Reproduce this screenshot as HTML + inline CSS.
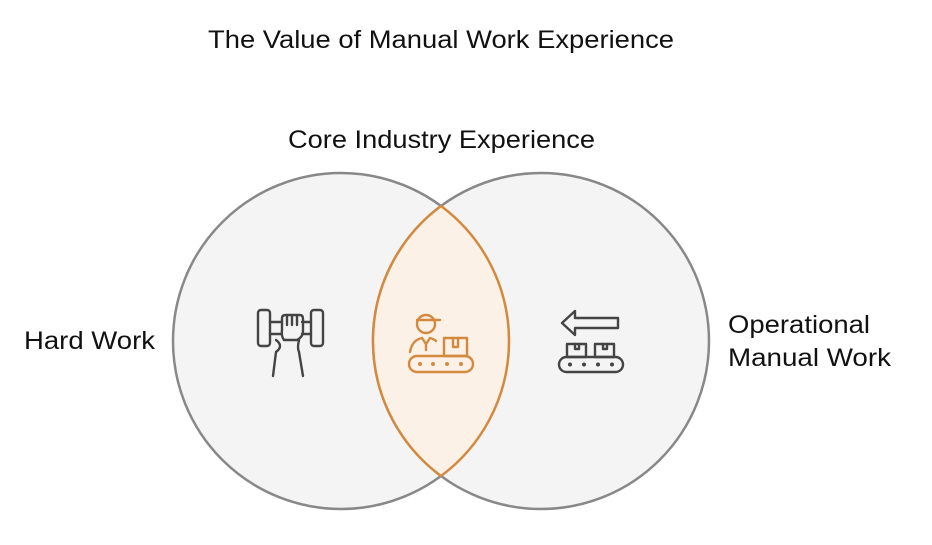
<!DOCTYPE html>
<html><head><style>
body{margin:0;width:932px;height:540px;background:#fff;overflow:hidden}
text{font-family:"Liberation Sans",sans-serif;fill:#111}
</style></head><body>
<svg width="932" height="540" viewBox="0 0 932 540">
<text x="208" y="48" font-size="25" textLength="466" lengthAdjust="spacingAndGlyphs">The Value of Manual Work Experience</text>
<text x="288" y="148" font-size="25" textLength="307" lengthAdjust="spacingAndGlyphs">Core Industry Experience</text>
<text x="24" y="349" font-size="25" textLength="131" lengthAdjust="spacingAndGlyphs">Hard Work</text>
<text x="728" y="333" font-size="25" textLength="142" lengthAdjust="spacingAndGlyphs">Operational</text>
<text x="728" y="366" font-size="25" textLength="163" lengthAdjust="spacingAndGlyphs">Manual Work</text>
<circle cx="341" cy="341" r="168" fill="#f4f4f4" stroke="#888" stroke-width="2.5"/>
<circle cx="541" cy="341" r="168" fill="#f4f4f4" stroke="#888" stroke-width="2.5"/>
<path d="M441 206 A168 168 0 0 1 441 476 A168 168 0 0 1 441 206Z" fill="#fbf1e6" stroke="#d38a3e" stroke-width="2.5"/>
<g fill="none" stroke="#444" stroke-width="2.4" stroke-linecap="round" stroke-linejoin="round">
<rect x="258" y="310" width="12" height="36" rx="3"/>
<rect x="311" y="310" width="12" height="36" rx="3"/>
<path d="M270 322h12M270 334h12M302 322h9M302 334h9"/>
<path d="M282 318q0-3 4-3h14q3 0 3 4v12q0 6-6 9h-13q-3-4-2-10v-12"/>
<path d="M287 316v9M292 316v9M297 316v9"/>
<path d="M276 340q8 6 0 12l-3 24M299 340q-2 8 0 12l4 24"/>
</g>
<g fill="none" stroke="#d38a3e" stroke-width="2.4" stroke-linecap="round" stroke-linejoin="round">
<circle cx="426" cy="324" r="9"/>
<path d="M417 320h23"/>
<path d="M410 352q2-12 12-14l4 6 4-6q4 1 6 3M426 344v6"/>
<rect x="444" y="338" width="23" height="18"/>
<path d="M453 338v9h5v-9"/>
<rect x="409" y="356" width="64" height="16" rx="8"/>
</g>
<g fill="#d38a3e"><circle cx="420" cy="364" r="2"/><circle cx="433" cy="364" r="2"/><circle cx="447" cy="364" r="2"/><circle cx="461" cy="364" r="2"/></g>
<g fill="none" stroke="#444" stroke-width="2.4" stroke-linecap="round" stroke-linejoin="round">
<path d="M562 323l13-12v7h43v10h-43v7z"/>
<rect x="567" y="344" width="19" height="13"/><path d="M575 344v5h4v-5"/>
<rect x="595" y="344" width="19" height="13"/><path d="M603 344v5h4v-5"/>
<rect x="559" y="357" width="64" height="15" rx="7.5"/>
</g>
<g fill="#444"><circle cx="570" cy="364.5" r="2"/><circle cx="584" cy="364.5" r="2"/><circle cx="598" cy="364.5" r="2"/><circle cx="612" cy="364.5" r="2"/></g>
</svg>
</body></html>
